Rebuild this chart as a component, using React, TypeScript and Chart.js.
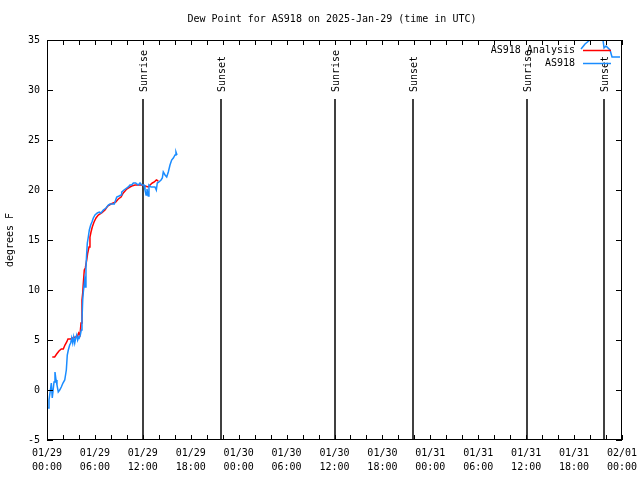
import React, { useEffect, useRef } from "react";
import { Chart, registerables } from "chart.js";

Chart.register(...registerables);

const TITLE = "Dew Point for AS918 on 2025-Jan-29 (time in UTC)";
const Y_LABEL = "degrees F";
const FONT = "DejaVu Sans Mono";

const xTickDates = ["01/29", "01/29", "01/29", "01/29", "01/30", "01/30", "01/30", "01/30", "01/31", "01/31", "01/31", "01/31", "02/01"];
const xTickTimes = ["00:00", "06:00", "12:00", "18:00", "00:00", "06:00", "12:00", "18:00", "00:00", "06:00", "12:00", "18:00", "00:00"];

// hours since 2025-01-29 00:00 UTC
const obsHours = [0.13, 0.25, 0.46, 0.54, 0.66, 0.88, 1.0, 1.13, 1.25, 1.41, 1.59, 1.79, 2.0, 2.22, 2.42, 2.54, 2.67, 2.84, 2.97, 3.09, 3.22, 3.34, 3.47, 3.59, 3.72, 3.84, 3.97, 4.04, 4.17, 4.29, 4.38, 4.47, 4.55, 4.72, 4.8, 4.88, 4.97, 5.05, 5.17, 5.3, 5.47, 5.63, 5.8, 6.01, 6.3, 6.55, 6.76, 7.05, 7.39, 7.68, 7.89, 8.43, 8.6, 8.73, 9.02, 9.27, 9.35, 9.64, 9.98, 10.18, 10.39, 10.61, 10.81, 11.11, 11.23, 11.43, 11.65, 11.86, 12.15, 12.27, 12.4, 12.52, 12.68, 12.77, 13.02, 13.31, 13.52, 13.69, 13.81, 14.02, 14.28, 14.44, 14.56, 14.78, 14.99, 15.19, 15.4, 15.61, 15.82, 16.03, 16.15, 16.28];
const obsValues = [-1.8, -1.0, 0.2, 0.7, -0.8, 0.8, 1.8, 1.0, 0.5, -0.2, 0.0, 0.3, 0.7, 1.0, 2.0, 3.5, 4.0, 4.5, 4.7, 5.2, 4.7, 5.3, 4.7, 5.2, 5.5, 5.0, 5.3, 5.2, 5.5, 6.0, 7.0, 9.0, 9.8, 11.0, 10.3, 12.3, 13.7, 14.7, 15.3, 16.0, 16.5, 16.8, 17.2, 17.5, 17.7, 17.8, 17.7, 18.0, 18.2, 18.5, 18.6, 18.6, 19.0, 19.3, 19.4, 19.5, 19.8, 20.0, 20.2, 20.3, 20.5, 20.5, 20.7, 20.7, 20.6, 20.5, 20.7, 20.5, 20.5, 20.0, 19.5, 20.1, 19.4, 20.5, 20.3, 20.3, 20.3, 20.0, 20.7, 20.8, 21.0, 21.2, 21.8, 21.5, 21.3, 21.8, 22.5, 23.0, 23.2, 23.5, 23.8, 23.5];

const lateObsHours = [66.87, 67.37, 67.99, 69.62, 69.75, 70.0, 70.5, 70.75, 71.75];
const lateObsValues = [34.1, 34.6, 35.0, 35.0, 34.2, 34.4, 34.0, 33.3, 33.3];

const anaHours = [0.66, 0.96, 1.21, 1.5, 1.79, 2.04, 2.25, 2.47, 2.63, 2.97, 3.22, 3.54, 3.79, 3.97, 4.13, 4.26, 4.38, 4.47, 4.55, 4.67, 4.8, 4.97, 5.1, 5.26, 5.38, 5.51, 5.67, 5.89, 6.14, 6.42, 6.85, 7.26, 7.6, 8.01, 8.3, 8.6, 8.93, 9.27, 9.55, 9.77, 9.98, 10.18, 10.39, 10.61, 11.02, 11.86, 12.27, 12.68, 12.9, 13.19, 13.44, 13.69, 13.94];
const anaValues = [3.3, 3.3, 3.6, 3.9, 4.1, 4.1, 4.5, 4.8, 5.1, 5.1, 5.2, 5.3, 5.3, 5.7, 5.5, 6.7, 9.0, 9.7, 10.7, 12.0, 12.2, 13.0, 13.7, 14.3, 15.3, 15.8, 16.3, 16.8, 17.2, 17.5, 17.7, 18.0, 18.4, 18.6, 18.7, 18.8, 19.1, 19.3, 19.7, 19.9, 20.1, 20.2, 20.3, 20.4, 20.5, 20.5, 20.4, 20.3, 20.5, 20.7, 20.8, 21.0, 20.9];

const sunHours = [12.0, 21.8, 36.05, 45.83, 60.1, 69.72];
const sunLabels = ["Sunrise", "Sunset", "Sunrise", "Sunset", "Sunrise", "Sunset"];

const legendLabels = ["AS918 Analysis", "AS918"];
const seriesColors = ["#ff0000", "#1a8cff"];

const overlayPlugin = {
  id: "overlay",
  beforeDatasetsDraw(chart: any) {
    const { ctx, chartArea, scales } = chart;
    const x = scales.x;
    ctx.save();
    ctx.strokeStyle = "#000";
    ctx.lineWidth = 1.5;
    ctx.fillStyle = "#000";
    ctx.font = `10px "${FONT}"`;
    sunHours.forEach((h, i) => {
      const px = Math.round(x.getPixelForValue(h));
      ctx.beginPath();
      ctx.moveTo(px, 99);
      ctx.lineTo(px, chartArea.bottom);
      ctx.stroke();
      ctx.save();
      ctx.translate(px + 1, 92);
      ctx.rotate(-Math.PI / 2);
      ctx.textAlign = "left";
      ctx.textBaseline = "middle";
      ctx.fillText(sunLabels[i], 0, 0);
      ctx.restore();
    });
    ctx.restore();
  },
  afterDraw(chart: any) {
    const { ctx, chartArea, scales } = chart;
    const { left, right, top, bottom } = chartArea;
    const x = scales.x;
    const y = scales.y;
    ctx.save();
    ctx.strokeStyle = "#000";
    ctx.lineWidth = 1;
    ctx.strokeRect(left + 0.5, top + 0.5, right - left - 1, bottom - top - 1);
    ctx.beginPath();
    for (let h = 0; h <= 72; h += 2) {
      const px = Math.round(x.getPixelForValue(h)) + 0.5;
      ctx.moveTo(px, bottom);
      ctx.lineTo(px, bottom - 5);
      ctx.moveTo(px, top);
      ctx.lineTo(px, top + 5);
    }
    for (let v = -5; v <= 35; v += 5) {
      const py = Math.round(y.getPixelForValue(v)) + 0.5;
      ctx.moveTo(left, py);
      ctx.lineTo(left + 6, py);
      ctx.moveTo(right, py);
      ctx.lineTo(right - 6, py);
    }
    ctx.stroke();

    ctx.fillStyle = "#000";
    ctx.font = `10px "${FONT}"`;
    ctx.textAlign = "center";
    ctx.textBaseline = "middle";
    ctx.fillText(TITLE, 332, 19);

    const rows = [50, 63];
    legendLabels.forEach((label, i) => {
      ctx.textAlign = "right";
      ctx.fillStyle = "#000";
      ctx.fillText(label, 575, rows[i]);
      ctx.strokeStyle = seriesColors[i];
      ctx.lineWidth = 1.5;
      ctx.beginPath();
      ctx.moveTo(583, rows[i] + 0.5);
      ctx.lineTo(611, rows[i] + 0.5);
      ctx.stroke();
    });
    ctx.restore();
  },
};

export default function App() {
  const ref = useRef<HTMLCanvasElement | null>(null);
  useEffect(() => {
    if (!ref.current) return;
    const obsPoints: any[] = obsHours.map((h, i) => ({ x: h, y: obsValues[i] }));
    obsPoints.push({ x: 40, y: null });
    lateObsHours.forEach((h, i) => obsPoints.push({ x: h, y: lateObsValues[i] }));
    const anaPoints = anaHours.map((h, i) => ({ x: h, y: anaValues[i] }));
    const chart = new Chart(ref.current, {
      type: "line",
      data: {
        datasets: [
          {
            label: legendLabels[1],
            data: obsPoints,
            borderColor: seriesColors[1],
            borderWidth: 1.5,
            pointRadius: 0,
            fill: false,
            tension: 0,
            spanGaps: false,
          },
          {
            label: legendLabels[0],
            data: anaPoints,
            borderColor: seriesColors[0],
            borderWidth: 1.5,
            pointRadius: 0,
            fill: false,
            tension: 0,
          },
        ],
      },
      options: {
        animation: false,
        responsive: false,
        maintainAspectRatio: false,
        layout: { padding: { left: 0, top: 40, right: 18, bottom: 0 } },
        plugins: {
          legend: { display: false },
          title: { display: false },
          tooltip: { enabled: false },
        },
        scales: {
          x: {
            type: "linear",
            min: 0,
            max: 72,
            grid: { display: false, drawTicks: false },
            border: { display: false },
            afterFit: (s: any) => {
              s.height = 40;
              s.paddingLeft = 0;
              s.paddingRight = 0;
            },
            ticks: {
              stepSize: 6,
              autoSkip: false,
              maxRotation: 0,
              padding: 6,
              color: "#000",
              font: { family: FONT, size: 10, lineHeight: 1.4 },
              callback: (v: any) => {
                const i = Math.round(Number(v) / 6);
                return [xTickDates[i], xTickTimes[i]];
              },
            },
          },
          y: {
            type: "linear",
            min: -5,
            max: 35,
            grid: { display: false, drawTicks: false },
            border: { display: false },
            afterFit: (s: any) => {
              s.width = 47;
              s.paddingTop = 0;
              s.paddingBottom = 0;
            },
            title: {
              display: true,
              text: Y_LABEL,
              color: "#000",
              font: { family: FONT, size: 10 },
              padding: { top: 4, bottom: 0 },
            },
            ticks: {
              stepSize: 5,
              padding: 7,
              color: "#000",
              font: { family: FONT, size: 10 },
            },
          },
        },
      },
      plugins: [overlayPlugin],
    });
    return () => chart.destroy();
  }, []);
  return (
    <div style={{ position: "fixed", left: 0, top: 0, width: 640, height: 480, background: "#fff" }}>
      <canvas ref={ref} width={640} height={480} style={{ width: 640, height: 480, display: "block" }} />
    </div>
  );
}
